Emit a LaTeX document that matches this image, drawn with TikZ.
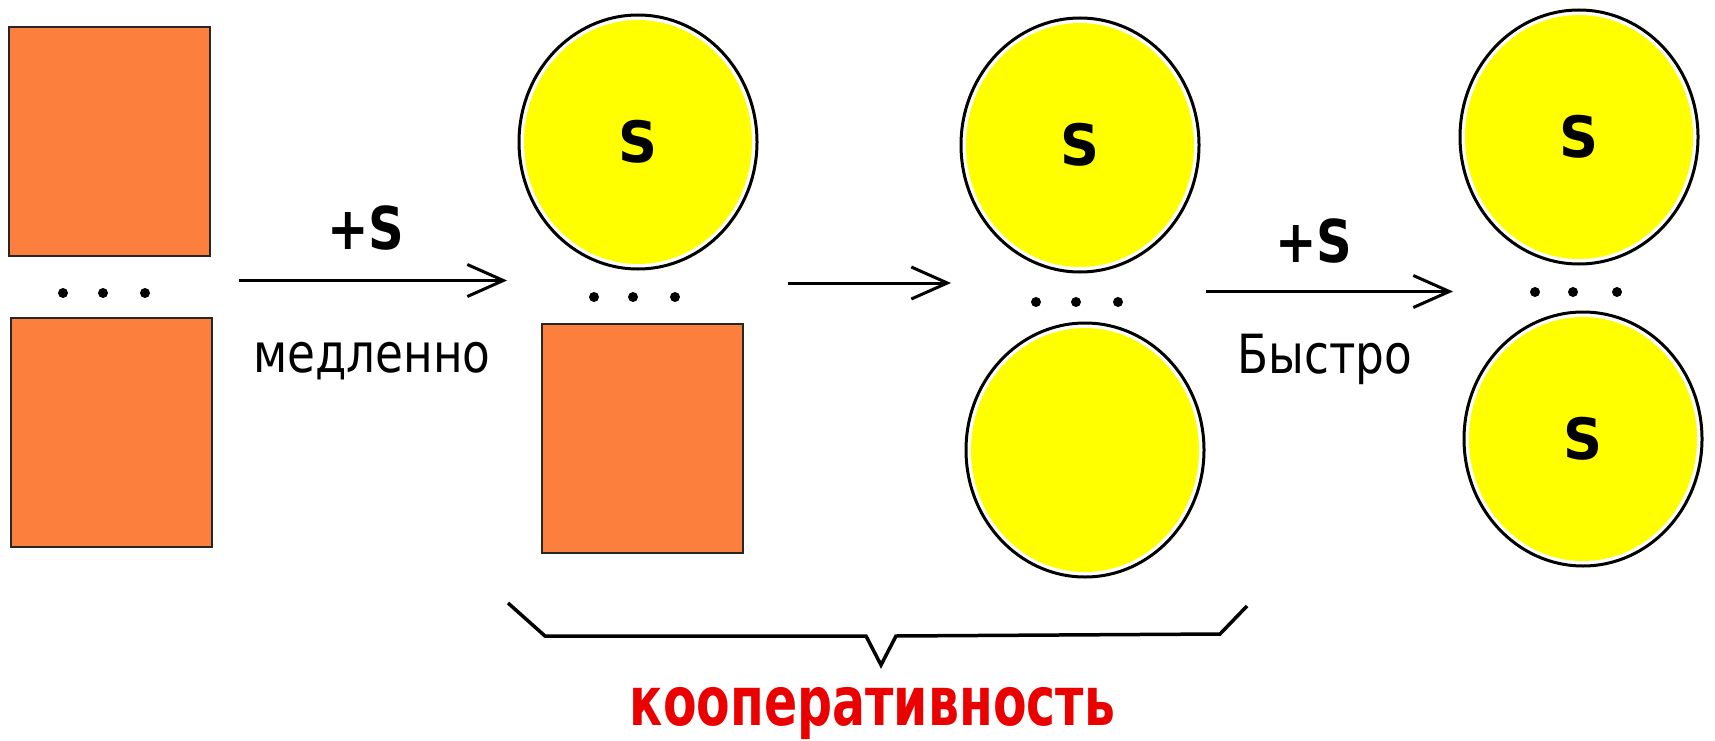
\documentclass[tikz,border=0pt]{standalone}
\usepackage{fontspec}
\setmainfont{DejaVu Sans}
\newfontfamily\lblfont[FakeStretch=0.84]{DejaVu Sans}
\newfontfamily\subfont[FakeStretch=0.95]{DejaVu Sans}
\newfontfamily\keyfont[FakeStretch=0.72]{DejaVu Sans}
\usetikzlibrary{shapes.geometric,arrows.meta}
\definecolor{boxorange}{RGB}{252,127,62}
\definecolor{ballyellow}{RGB}{255,255,0}
\definecolor{keyred}{RGB}{235,0,0}
\begin{document}
\begin{tikzpicture}[x=1pt,y=-1pt,
  site/.style={rectangle, draw=black!85, line width=2pt, fill=boxorange,
    minimum width=201pt, minimum height=229pt, inner sep=0pt},
  ball/.style={ellipse, draw, line width=3pt, minimum width=238pt,
    minimum height=254pt, inner sep=0pt,
    font=\subfont\bfseries\fontsize{57}{57}\selectfont,
    path picture={\fill[ballyellow] (path picture bounding box.center)
      ellipse [x radius=114pt, y radius=122pt];}},
  dotmark/.style={circle, fill=black, inner sep=0pt, minimum size=10pt},
  react/.style={line width=3pt,
    -{Straight Barb[length=36pt,width=32pt,line width=3pt]}},
  plus/.style={font=\lblfont\bfseries\fontsize{59}{59}\selectfont, inner sep=0pt},
  rate/.style={font=\lblfont\fontsize{54}{54}\selectfont, inner sep=0pt, anchor=base},
  keyword/.style={font=\keyfont\bfseries\fontsize{68}{68}\selectfont,
    text=keyred, inner sep=0pt, anchor=base},
]
\useasboundingbox (0,0) rectangle (1715,741);

% column 1: two empty sites
\node[site] (sA) at (109,141.5) {};
\node[site] (sB) at (111.5,432.5) {};
\node[dotmark] (d1a) at (63,293) {};
\node[dotmark] (d1b) at (103,293) {};
\node[dotmark] (d1c) at (145,293) {};

% column 2: one site filled
\node[ball] (b1) at (638,142) {S};
\node[site] (sC) at (642,438) {};
\node[dotmark] (d2a) at (594,297) {};
\node[dotmark] (d2b) at (633,297) {};
\node[dotmark] (d2c) at (675,297) {};

% column 3: both sites changed, one filled
\node[ball] (b2) at (1080,145) {S};
\node[ball] (b3) at (1085,450) {};
\node[dotmark] (d3a) at (1036,302) {};
\node[dotmark] (d3b) at (1076,302) {};
\node[dotmark] (d3c) at (1118,302) {};

% column 4: both sites filled
\node[ball] (b4) at (1579,137) {S};
\node[ball] (b5) at (1583,439) {S};
\node[dotmark] (d4a) at (1535,292) {};
\node[dotmark] (d4b) at (1573,292) {};
\node[dotmark] (d4c) at (1617,292) {};

% reaction arrows
\coordinate (r1s) at (239,280.5);
\coordinate (r1e) at (507,280.5);
\coordinate (r2s) at (788,283);
\coordinate (r2e) at (951,283);
\coordinate (r3s) at (1206,291.5);
\coordinate (r3e) at (1453,291.5);
\draw[react] (r1s) -- (r1e);
\draw[react] (r2s) -- (r2e);
\draw[react] (r3s) -- (r3e);

\node[plus] (p1) at (366,228) {+S};
\node[rate] (slow) at (372,372.7) {медленно};
\node[plus] (p2) at (1314,241) {+S};
\node[rate] (fast) at (1325,373) {Быстро};

% brace under columns 2 and 3
\draw[line width=3.5pt, line join=miter] (508,603) -- (545,636) -- (866,636)
  -- (881,665) -- (896,636) -- (1220,634) -- (1247,606);
\node[keyword] (coop) at (872.5,725) {кооперативность};
\end{tikzpicture}
\end{document}
